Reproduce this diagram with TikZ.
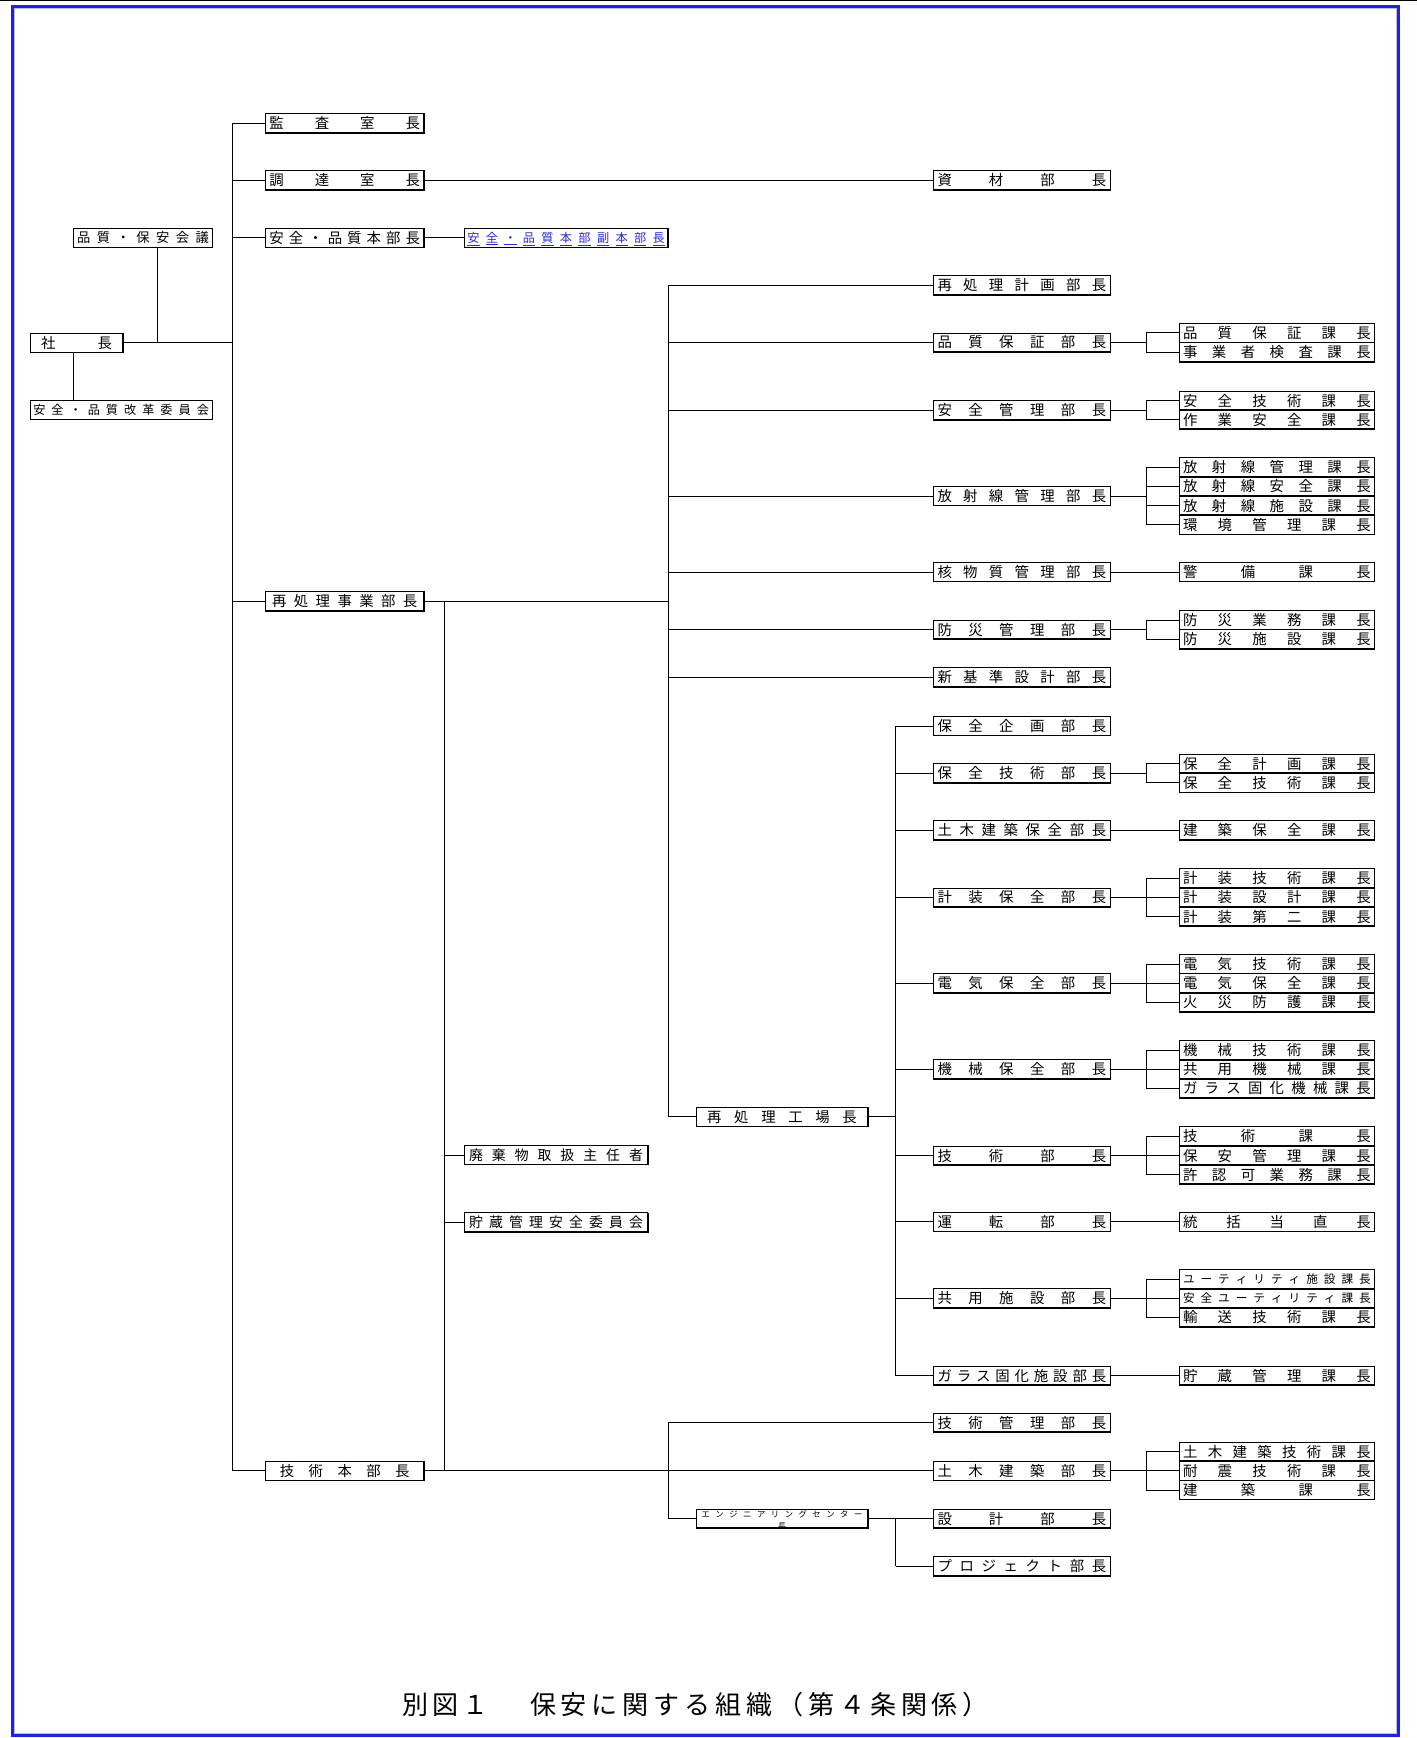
\documentclass[tikz,border=0pt]{standalone}
\usepackage{fontspec}
\setmainfont{Noto Sans CJK JP}
\usetikzlibrary{calc}
\definecolor{frameblue}{RGB}{30,30,250}
\definecolor{linkblue}{RGB}{40,40,230}
\makeatletter
\def\spr@end{SPREND}
\def\spr#1{\spr@a#1\spr@end}
\def\spr@a#1{#1\spr@b}
\def\spr@b#1{\ifx#1\spr@end\else\hfil#1\expandafter\spr@b\fi}
\def\sprU#1{\sprU@a#1\spr@end}
\def\sprU@a#1{\underline{#1}\sprU@b}
\def\sprU@b#1{\ifx#1\spr@end\else\hfil\underline{#1}\expandafter\sprU@b\fi}
\makeatother
\tikzset{
  ob/.style={draw, line width=0.7pt, anchor=west, inner ysep=0pt, outer sep=0pt, minimum height=17.3pt},
  ln/.style={line width=0.8pt},
  thickedge/.style={line width=1.5pt}
}
% name, xleft, xright, y, fontsize, pad, text
\newcommand\bx[7]{%
  \pgfmathsetmacro\bxw{#3-#2-2*#6}%
  \pgfmathsetmacro\bxh{0.88*#5}%
  \pgfmathsetmacro\bxd{0.12*#5}%
  \node[ob, inner xsep=#6pt, text height=\bxh pt, text depth=\bxd pt, font=\fontsize{#5}{#5}\selectfont] (#1) at (#2,#4) {\makebox[\bxw pt][s]{\spr{#7}}};%
  \draw[thickedge] (#1.south west) -- (#1.south east) -- (#1.north east);}
\newcommand\bu[3]{\bx{#1}{842}{1001.8}{#2}{13}{3.8}{#3}}
\newcommand\ka[3]{\bx{#1}{1064}{1240}{#2}{13}{3.3}{#3}}
\newcommand\kas[3]{\bx{#1}{1064}{1240}{#2}{10.5}{3.3}{#3}}
\newcommand\tr[4]{\bx{#1}{239.5}{382.5}{#2}{13}{#3}{#4}}
\begin{document}
\begin{tikzpicture}[x=1pt,y=-1pt]
\useasboundingbox (0,0) rectangle (1278,1568);
\fill[white] (0,0) rectangle (1278,1568);
\draw[line width=0.8pt] (0,0.4) -- (1278,0.4);
\draw[frameblue, line width=2.2pt] (11.1,6) rectangle (1261.7,1565.7);
\draw[black!25, line width=0.4pt] (12.8,7.7) rectangle (1260,1564);

% column coordinates
\coordinate (X0) at (210,0);
\coordinate (X1) at (401,0);
\coordinate (X2) at (603,0);
\coordinate (X3) at (808,0);
\coordinate (XB) at (1034,0);
\coordinate (K1) at (141.7,0);
\coordinate (K2) at (66.5,0);

% left nodes
\bx{shacho}{27}{111}{309.3}{13}{10}{社長}
\bx{kaigi}{66.5}{191.6}{214.6}{12}{3}{品質・保安会議}
\bx{kaikaku}{27}{191.6}{369.8}{11}{3}{安全・品質改革委員会}

% trunk nodes
\tr{kansa}{111.2}{3.5}{監査室長}
\tr{chotatsu}{162.6}{3.5}{調達室長}
\tr{anzen}{214.6}{3.5}{安全・品質本部長}
\tr{jigyo}{542.5}{6}{再処理事業部長}
\tr{gijutsu}{1327}{13}{技術本部長}

% vice head (blue)
\node[ob, inner xsep=3pt, text height=9.7pt, text depth=1.3pt, text=linkblue, font=\fontsize{11}{11}\selectfont] (fuku) at (418.7,214.6) {\makebox[178pt][s]{\sprU{安全・品質本部副本部長}}};
\draw[thickedge] (fuku.south west) -- (fuku.south east) -- (fuku.north east);

% middle nodes
\bx{haiki}{418.7}{584.5}{1042}{12.5}{4.5}{廃棄物取扱主任者}
\bx{chozo}{418.7}{584.5}{1102.6}{12.5}{4.5}{貯蔵管理安全委員会}
\bx{kojo}{628}{783}{1007.5}{13}{10}{再処理工場長}

% engineering center
\node[ob, inner sep=0pt, minimum width=155pt] (engc) at (628,1370) {};
\draw[thickedge] (engc.south west) -- (engc.south east) -- (engc.north east);
\begin{scope}
\clip (engc.south west) rectangle (engc.north east);
\node[inner sep=0pt, font=\fontsize{7.5}{7.5}\selectfont] (engct) at ($(engc.center)+(0,-3.5)$) {\makebox[145pt][s]{\spr{エンジニアリングセンター}}};
\node[inner sep=0pt, font=\fontsize{7.5}{7.5}\selectfont] (engcc) at ($(engc.center)+(0,7.5)$) {長};
\end{scope}

% department heads
\bu{shiryo}{162.6}{資材部長}
\bu{keikaku}{257.5}{再処理計画部長}
\bu{hinshitsu}{309}{品質保証部長}
\bu{anzenkanri}{370}{安全管理部長}
\bu{hoshasen}{447.5}{放射線管理部長}
\bu{kakub}{516}{核物質管理部長}
\bu{bosai}{568}{防災管理部長}
\bu{shinkijun}{611}{新基準設計部長}
\bu{hozenkikaku}{655}{保全企画部長}
\bu{hozengijutsu}{697.6}{保全技術部長}
\bu{dobokuhozen}{749}{土木建築保全部長}
\bu{keiso}{809.7}{計装保全部長}
\bu{denki}{887}{電気保全部長}
\bu{kikai}{964.7}{機械保全部長}
\bu{gijutsubu}{1042.5}{技術部長}
\bu{unten}{1102.4}{運転部長}
\bu{kyoyo}{1171.3}{共用施設部長}
\bu{glass}{1241}{ガラス固化施設部長}
\bu{gijutsukanri}{1283.4}{技術管理部長}
\bu{doboku}{1327}{土木建築部長}
\bu{sekkei}{1370}{設計部長}
\bu{project}{1413}{プロジェクト部長}

% section heads
\ka{c11}{300.35}{品質保証課長}
\ka{c12}{317.65}{事業者検査課長}
\ka{c21}{361.35}{安全技術課長}
\ka{c22}{378.65}{作業安全課長}
\ka{c31}{421.55}{放射線管理課長}
\ka{c32}{438.85}{放射線安全課長}
\ka{c33}{456.15}{放射線施設課長}
\ka{c34}{473.45}{環境管理課長}
\ka{c41}{516}{警備課長}
\ka{c51}{559.35}{防災業務課長}
\ka{c52}{576.65}{防災施設課長}
\ka{c61}{688.95}{保全計画課長}
\ka{c62}{706.25}{保全技術課長}
\ka{c71}{749}{建築保全課長}
\ka{c81}{792.4}{計装技術課長}
\ka{c82}{809.7}{計装設計課長}
\ka{c83}{827}{計装第二課長}
\ka{c91}{869.7}{電気技術課長}
\ka{c92}{887}{電気保全課長}
\ka{c93}{904.3}{火災防護課長}
\ka{d11}{947.4}{機械技術課長}
\ka{d12}{964.7}{共用機械課長}
\ka{d13}{982}{ガラス固化機械課長}
\ka{d21}{1025.2}{技術課長}
\ka{d22}{1042.5}{保安管理課長}
\ka{d23}{1059.8}{許認可業務課長}
\ka{d31}{1102.4}{統括当直長}
\kas{d41}{1154}{ユーティリティ施設課長}
\kas{d42}{1171.3}{安全ユーティリティ課長}
\ka{d43}{1188.6}{輸送技術課長}
\ka{d51}{1241}{貯蔵管理課長}
\ka{d61}{1309.7}{土木建築技術課長}
\ka{d62}{1327}{耐震技術課長}
\ka{d63}{1344.3}{建築課長}

% left connectors
\draw[ln] (shacho.east) -- (shacho.east -| X0);
\draw[ln] (kaigi.south -| K1) -- (shacho.east -| K1);
\draw[ln] (shacho.south -| K2) -- (kaikaku.north -| K2);
\draw[ln] (kansa.west -| X0) -- (gijutsu.west -| X0);
\foreach \n in {kansa,chotatsu,anzen,jigyo,gijutsu} \draw[ln] (\n.west -| X0) -- (\n.west);
\draw[ln] (chotatsu.east) -- (shiryo.west);
\draw[ln] (anzen.east) -- (fuku.west);

% reprocessing division
\draw[ln] (jigyo.east) -- (jigyo.east -| X2);
\draw[ln] (keikaku.west -| X2) -- (kojo.west -| X2);
\foreach \n in {keikaku,hinshitsu,anzenkanri,hoshasen,kakub,bosai,shinkijun,kojo} \draw[ln] (\n.west -| X2) -- (\n.west);
\draw[ln] (jigyo.east -| X1) -- (gijutsu.east -| X1);
\foreach \n in {haiki,chozo} \draw[ln] (\n.west -| X1) -- (\n.west);

% plant manager
\draw[ln] (kojo.east) -- (kojo.east -| X3);
\draw[ln] (hozenkikaku.west -| X3) -- (glass.west -| X3);
\foreach \n in {hozenkikaku,hozengijutsu,dobokuhozen,keiso,denki,kikai,gijutsubu,unten,kyoyo,glass} \draw[ln] (\n.west -| X3) -- (\n.west);

% engineering division
\draw[ln] (gijutsu.east) -- (doboku.west);
\draw[ln] (gijutsukanri.west -| X2) -- (engc.west -| X2);
\foreach \n in {gijutsukanri,engc} \draw[ln] (\n.west -| X2) -- (\n.west);
\draw[ln] (engc.east) -- (sekkei.west);
\draw[ln] (sekkei.west -| X3) -- (project.west -| X3);
\draw[ln] (project.west -| X3) -- (project.west);

% brackets to section heads
\foreach \p/\a/\b/\list in {hinshitsu/c11/c12/{c11,c12}, anzenkanri/c21/c22/{c21,c22}, hoshasen/c31/c34/{c31,c32,c33,c34}, bosai/c51/c52/{c51,c52}, hozengijutsu/c61/c62/{c61,c62}, keiso/c81/c83/{c81,c82,c83}, denki/c91/c93/{c91,c92,c93}, kikai/d11/d13/{d11,d12,d13}, gijutsubu/d21/d23/{d21,d22,d23}, kyoyo/d41/d43/{d41,d42,d43}, doboku/d61/d63/{d61,d62,d63}} {
  \draw[ln] (\p.east) -- (\p.east -| XB);
  \draw[ln] (\a.west -| XB) -- (\b.west -| XB);
  \foreach \c in \list \draw[ln] (\c.west -| XB) -- (\c.west);
}
\foreach \p/\c in {kakub/c41, dobokuhozen/c71, unten/d31, glass/d51} \draw[ln] (\p.east) -- (\c.west);

% title
\node[anchor=west, inner sep=0pt, text height=20.7pt, text depth=2.8pt, font=\fontsize{23.5}{23.5}\selectfont] (title) at (363,1538) {\makebox[78pt][s]{\spr{別図１}}\hspace{37pt}\makebox[414pt][s]{\spr{保安に関する組織（第４条関係）}}};
\end{tikzpicture}
\end{document}
